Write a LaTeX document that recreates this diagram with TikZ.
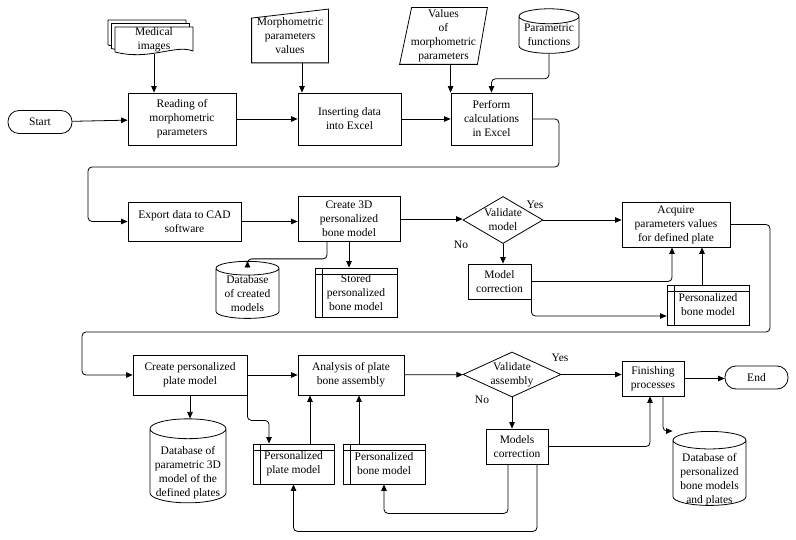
\documentclass[tikz,border=0pt]{standalone}
\usepackage{fontspec}
\setmainfont{Liberation Serif}
\usetikzlibrary{shapes.geometric,arrows.meta,calc}
\begin{document}
\begin{tikzpicture}[x=1pt,y=-1pt,line width=0.8pt,
    every node/.style={font=\fontsize{11.5}{14}\selectfont,align=center,inner sep=1pt},
    box/.style={draw,rectangle},
    term/.style={draw,rectangle,rounded corners=11pt,minimum width=63pt,minimum height=23pt},
    decision/.style={draw,diamond,inner sep=0pt},
    db/.style={draw,cylinder,shape border rotate=90,inner sep=0pt},
    dbtext/.style={label={[yshift=-7pt]center:{#1}}},
    storage/.style={draw,rectangle,path picture={
        \draw ([yshift=-6pt]path picture bounding box.north west) -- ([yshift=-6pt]path picture bounding box.north east);
        \draw ([xshift=7pt]path picture bounding box.north west) -- ([xshift=7pt]path picture bounding box.south west);}},
    flow/.style={-{Triangle[length=6.5pt,width=5.5pt]},rounded corners=4pt}]
  \useasboundingbox (0,0) rectangle (796,540);
  % first row
  \foreach \d in {7,3.5,0}
    \draw[fill=white] (115-\d,27-\d) -- (193-\d,27-\d) -- (193-\d,51-\d)
      .. controls (175-\d,44-\d) and (150-\d,61-\d) .. (115-\d,52-\d) -- cycle;
  \node[minimum width=78pt,minimum height=26pt] (med) at (154,40) {Medical\\images};
  \node[minimum width=76pt,minimum height=53pt] (mpv) at (290,36) {Morphometric\\parameters\\values};
  \draw (mpv.south west) -- (mpv.south east) -- (mpv.north east) -- ([yshift=-9pt]mpv.north west) -- cycle;
  \node[minimum width=87pt,minimum height=56pt] (vals) at (443.5,36) {Values\\of\\morphometric\\parameters};
  \draw ([xshift=12pt]vals.north west) -- (vals.north east) -- ([xshift=-10pt]vals.south east) -- (vals.south west) -- cycle;
  \node[db,minimum width=60pt,minimum height=34pt,shape aspect=0.3] (pf) at (549,35) {Parametric\\functions};
  \node[term,minimum width=64pt] (start) at (40,122) {Start};
  \node[box,minimum width=108pt,minimum height=52pt] (read) at (182,119) {Reading of\\morphometric\\parameters};
  \node[box,minimum width=103pt,minimum height=52pt] (ins) at (349.5,119) {Inserting data\\into Excel};
  \node[box,minimum width=81pt,minimum height=52pt] (perf) at (491.5,119) {Perform\\calculations\\in Excel};
  % second row
  \node[box,minimum width=113pt,minimum height=39pt] (exp) at (184.5,221.5) {Export data to CAD\\software};
  \node[box,minimum width=102pt,minimum height=45pt] (c3d) at (349,219) {Create 3D\\personalized\\bone model};
  \node[decision,minimum width=80pt,minimum height=47pt,shape aspect=1.7] (val1) at (503,220) {Validate\\model};
  \node[box,minimum width=108pt,minimum height=45pt] (acq) at (676,224.5) {Acquire\\parameters values\\for defined plate};
  \node (yes1) at (535,205) {Yes};
  \node (no1) at (461,245) {No};
  \node[box,minimum width=63pt,minimum height=35pt] (mc) at (499.5,281.5) {Model\\correction};
  \node[storage,minimum width=82pt,minimum height=40pt] (pbm1) at (708,305) {Personalized\\bone model};
  \node[db,minimum width=63pt,minimum height=47pt,shape aspect=0.3] (dbc) at (247.5,293.5) {Database\\of created\\models};
  \node[storage,minimum width=82pt,minimum height=49pt] (spb) at (356,292.5) {Stored\\personalized\\bone model};
  % third row
  \node[box,minimum width=114pt,minimum height=40pt] (cpm) at (190,375) {Create personalized\\plate model};
  \node[box,minimum width=106pt,minimum height=40pt] (ana) at (351,375) {Analysis of plate\\bone assembly};
  \node[decision,minimum width=98pt,minimum height=45pt,shape aspect=2.2] (val2) at (512,374.5) {Validate\\assembly};
  \node[box,minimum width=62pt,minimum height=35pt] (fin) at (653,378.5) {Finishing\\processes};
  \node[term,minimum width=63pt] (end) at (756.5,377.5) {End};
  \node (yes2) at (560,358) {Yes};
  \node (no2) at (482,400) {No};
  \node[db,minimum width=76pt,minimum height=84pt,shape aspect=0.3,
    dbtext={Database of\\parametric 3D\\model of the\\defined plates}] (dbp) at (188,466) {\phantom{parametric 3D}};
  \node[storage,minimum width=81pt,minimum height=40pt] (ppm) at (293.5,464) {Personalized\\plate model};
  \node[storage,minimum width=82pt,minimum height=40pt] (pbm2) at (384,464) {Personalized\\bone model};
  \node[box,minimum width=62pt,minimum height=35pt] (mcs) at (517,446.5) {Models\\correction};
  \node[db,minimum width=73pt,minimum height=74pt,shape aspect=0.3,
    dbtext={Database of\\personalized\\bone models\\and plates}] (dbf) at (709.5,473) {\phantom{bone models}};
  % connectors
  \begin{scope}[flow]
    \draw (start) -- (read);
    \draw (med.south) -- (med.south |- read.north);
    \draw (read) -- (ins);
    \draw ([xshift=12pt]mpv.south) -- ([xshift=12pt]mpv.south |- ins.north);
    \draw (ins) -- (perf);
    \draw (vals.south -| perf.north west) -- (perf.north west);
    \draw (pf.south) -- ++(0,25) -| (perf.north);
    \draw (perf.east) -| (559,167) -| (88,221.5) -- (exp.west);
    \draw (exp.east) -- (exp.east -| c3d.west);
    \draw (c3d.east) -- (c3d.east -| val1.west);
    \draw (val1.east) -- (val1.east -| acq.west);
    \draw (val1.south) -- (val1.south |- mc.north);
    \draw (mc.east) -| ([xshift=-4pt]acq.south);
    \draw (mc.south east) |- ([yshift=-11pt]pbm1.west);
    \draw ([xshift=-6pt]pbm1.north) -- ([xshift=-6pt]pbm1.north |- acq.south);
    \draw ([xshift=-22pt]c3d.south) -- ++(0,17) -| (dbc.north);
    \draw (c3d.south) -- (c3d.south |- spb.north);
    \draw (acq.east) -| (770,332) -| (82,375) -- (cpm.west);
    \draw (cpm) -- (ana);
    \draw (ana) -- (val2);
    \draw (val2.east) -- (val2.east -| fin.west);
    \draw (fin.east) -- (fin.east -| end.west);
    \draw (val2.south) -- (val2.south |- mcs.north);
    \draw (mcs.east) -| ([xshift=-3pt]fin.south);
    \draw (cpm.south) -- (cpm.south |- dbp.north);
    \draw (cpm.south east) -- ++(0,25) -| ([xshift=-24.5pt]ppm.north);
    \draw ([xshift=16.5pt]ppm.north) -- ([xshift=16.5pt]ppm.north |- ana.south);
    \draw ([xshift=-25pt]pbm2.north) -- ([xshift=-25pt]pbm2.north |- ana.south);
    \draw ([xshift=-9pt]mcs.south) -- ++(0,49) -| (pbm2.south);
    \draw ([xshift=20pt]mcs.south) -- ++(0,67) -| (ppm.south);
    \draw ([xshift=10pt]fin.south) |- (dbf.west |- dbf.north);
  \end{scope}
\end{tikzpicture}
\end{document}
